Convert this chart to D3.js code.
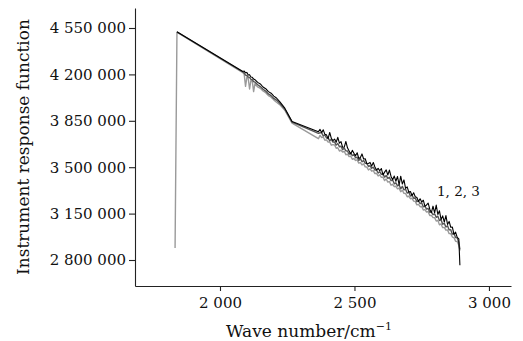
<!DOCTYPE html>
<html>
<head>
<meta charset="utf-8">
<script src="https://cdn.jsdelivr.net/npm/d3@7"></script>
<style>
  body { margin: 0; background: #fff; }
  svg { display: block; font-family: "DejaVu Serif", serif; }
  .axis path, .axis line { stroke: #222; stroke-width: 1.1; }
</style>
</head>
<body>
<div id="chart"></div>
<script>
// wave numbers (cm^-1) shared by the three curves
const waveNumbers = [
  1833, 1840, 2085,
  2090, 2095, 2100, 2105, 2110, 2115, 2120, 2125, 2130, 2140, 2150, 2160, 2170, 2180, 2190, 2200, 2210, 2222,
  2241, 2268, 2366,
  2372, 2378, 2384, 2390, 2396, 2402, 2408, 2414, 2420, 2426, 2432, 2438, 2444, 2450, 2456, 2462, 2468, 2474,
  2480, 2486, 2492, 2498, 2504, 2510, 2516, 2522, 2528, 2534, 2540, 2546, 2552, 2558, 2564, 2570, 2576, 2582,
  2588, 2594, 2600, 2606, 2612, 2618, 2624, 2630, 2636, 2642, 2648, 2654, 2660, 2666, 2672, 2678, 2684, 2690,
  2696, 2702, 2708, 2714, 2720, 2726, 2732, 2738, 2744, 2750, 2756, 2762, 2768, 2774, 2780, 2786, 2792, 2798,
  2804, 2810, 2816, 2822, 2828, 2834, 2840, 2846, 2852, 2858, 2864, 2870, 2876, 2882, 2888, 2892
];

// response values in thousands
const series1 = [
  null, 4522, 4222,
  4225, 4212, 4215, 4196, 4198, 4180, 4178, 4165, 4160, 4140, 4128, 4105, 4092, 4070, 4058, 4036, 4022, 3994,
  3945, 3845, 3768,
  3785, 3761, 3782, 3748, 3744, 3715, 3762, 3718, 3700, 3712, 3688, 3725, 3681, 3693, 3650, 3652, 3694, 3646,
  3623, 3600, 3627, 3605, 3587, 3609, 3566, 3573, 3600, 3562, 3564, 3526, 3528, 3536, 3508, 3535, 3502, 3479,
  3491, 3473, 3490, 3442, 3463, 3480, 3441, 3478, 3430, 3406, 3433, 3394, 3430, 3366, 3432, 3373, 3404, 3340,
  3351, 3312, 3317, 3287, 3307, 3277, 3272, 3242, 3262, 3237, 3251, 3205, 3215, 3229, 3183, 3157, 3206, 3156,
  3214, 3143, 3171, 3105, 3133, 3086, 3135, 3068, 3091, 3047, 3048, 2994, 3010, 2971, 2960, 2760
];
const series2 = [
  null, 4520, 4218,
  4210, 4195, 4192, 4180, 4177, 4163, 4160, 4146, 4142, 4122, 4108, 4088, 4074, 4053, 4040, 4019, 4006, 3982,
  3938, 3840, 3755,
  3760, 3759, 3736, 3743, 3720, 3721, 3699, 3710, 3690, 3690, 3667, 3679, 3654, 3658, 3632, 3644, 3624, 3622,
  3598, 3608, 3588, 3595, 3571, 3575, 3551, 3565, 3541, 3551, 3529, 3529, 3505, 3512, 3492, 3500, 3478, 3480,
  3456, 3466, 3446, 3450, 3425, 3437, 3416, 3424, 3398, 3403, 3375, 3382, 3359, 3366, 3337, 3356, 3329, 3334,
  3305, 3312, 3282, 3290, 3266, 3268, 3240, 3246, 3226, 3230, 3201, 3206, 3184, 3189, 3160, 3163, 3142, 3148,
  3122, 3131, 3097, 3104, 3070, 3076, 3049, 3059, 3027, 3029, 2995, 2999, 2969, 2967, 2932, 2880
];
const series3 = [
  2890, 4518, 4213,
  4200, 4110, 4180, 4170, 4090, 4155, 4150, 4070, 4130, 4105, 4095, 4075, 4062, 4040, 4028, 4008, 3990, 3972,
  3930, 3832, 3715,
  3740, 3723, 3728, 3703, 3706, 3689, 3691, 3666, 3670, 3668, 3643, 3647, 3622, 3628, 3614, 3620, 3594, 3598,
  3580, 3584, 3560, 3565, 3551, 3555, 3531, 3535, 3517, 3525, 3503, 3501, 3479, 3488, 3470, 3474, 3452, 3454,
  3434, 3442, 3424, 3424, 3399, 3411, 3388, 3392, 3364, 3371, 3353, 3356, 3337, 3342, 3315, 3326, 3303, 3302,
  3277, 3282, 3262, 3266, 3244, 3242, 3216, 3220, 3202, 3204, 3177, 3180, 3162, 3165, 3136, 3137, 3120, 3120,
  3094, 3099, 3065, 3072, 3044, 3046, 3025, 3027, 2999, 2999, 2973, 2969, 2941, 2939, 2912, 2870
];

const yTicks = [2800000, 3150000, 3500000, 3850000, 4200000, 4550000];
const xTicks = [2000, 2500, 3000];
const curveLabel = "1, 2, 3";

const width = 523, height = 341;
const margin = { top: 8, right: 12, bottom: 55, left: 135 };

const svg = d3.select("#chart").append("svg")
  .attr("width", width).attr("height", height);

const x = d3.scaleLinear().domain([1684, 3082]).range([margin.left, width - margin.right]);
const y = d3.scaleLinear().domain([2603900, 4700860]).range([height - margin.bottom, margin.top]);

const loc = d3.formatLocale({ decimal: ".", thousands: " ", grouping: [3], currency: ["", ""] });
const fmt = loc.format(",d");

// axes
const axX = svg.append("g")
  .attr("class", "axis")
  .attr("transform", `translate(0,${height - margin.bottom})`)
  .call(d3.axisBottom(x).tickValues(xTicks).tickFormat(fmt).tickSize(5).tickSizeOuter(0).tickPadding(6));

const axY = svg.append("g")
  .attr("class", "axis")
  .attr("transform", `translate(${margin.left},0)`)
  .call(d3.axisLeft(y).tickValues(yTicks).tickFormat(fmt).tickSize(6).tickSizeOuter(0).tickPadding(3));

[axX, axY].forEach(ax => {
  ax.attr("font-family", "DejaVu Serif").attr("font-size", 15);
  ax.selectAll("text").attr("fill", "#111");
});

// curves, light first so black stays on top
const seriesList = [
  { key: "3", values: series3, color: "#9a9a9a", w: 1.4 },
  { key: "2", values: series2, color: "#555", w: 1.4 },
  { key: "1", values: series1, color: "#000", w: 1.1 }
];

const line = d3.line()
  .defined(d => d[1] != null)
  .x(d => x(d[0]))
  .y(d => y(d[1] * 1000));

svg.append("g").selectAll("path")
  .data(seriesList)
  .join("path")
  .attr("fill", "none")
  .attr("stroke", d => d.color)
  .attr("stroke-width", d => d.w)
  .attr("stroke-linejoin", "round")
  .attr("d", d => line(waveNumbers.map((w, i) => [w, d.values[i]])));

// curve label
svg.append("text")
  .attr("x", x(2807)).attr("y", y(3283000))
  .attr("font-size", 13.5)
  .attr("fill", "#111")
  .text(curveLabel);

// axis titles
const xt = svg.append("text")
  .attr("x", 309).attr("y", 337)
  .attr("text-anchor", "middle")
  .attr("font-size", 17)
  .attr("fill", "#111")
  .text("Wave number/cm");
xt.append("tspan").attr("font-size", 11).attr("dy", -7).text("\u22121");

svg.append("text")
  .attr("transform", `translate(29,${(8 + 286) / 2}) rotate(-90)`)
  .attr("text-anchor", "middle")
  .attr("font-size", 17)
  .attr("fill", "#111")
  .text("Instrument response function");
</script>
</body>
</html>
